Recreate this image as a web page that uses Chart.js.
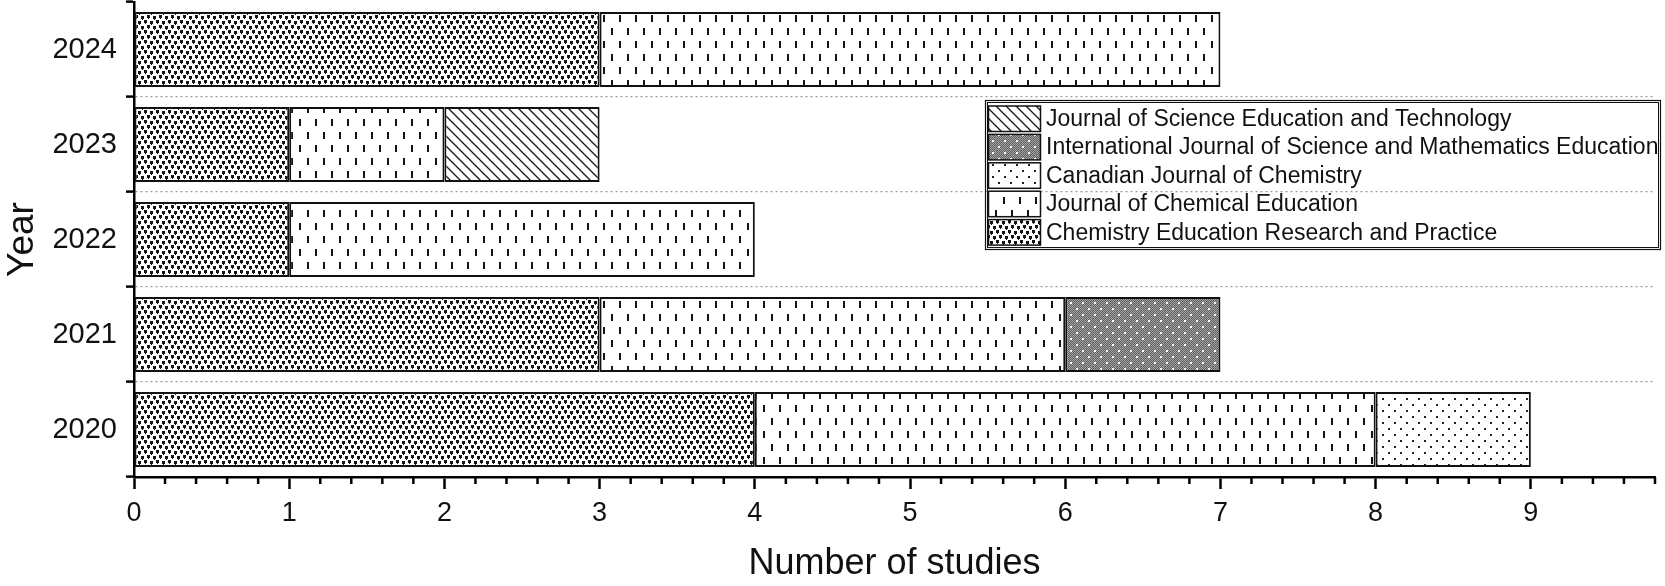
<!DOCTYPE html>
<html><head><meta charset="utf-8">
<script src="https://cdn.jsdelivr.net/npm/chart.js@4.4.0/dist/chart.umd.min.js"></script>
<style>html,body{margin:0;padding:0;background:#fff;overflow:hidden}canvas{display:block}</style>
</head><body>
<canvas id="c" width="1665" height="586"></canvas>
<script>
// ---- data ----
const years = ['2020', '2021', '2022', '2023', '2024'];
const journals = [
  'Chemistry Education Research and Practice',
  'Journal of Chemical Education',
  'Canadian Journal of Chemistry',
  'International Journal of Science and Mathematics Education',
  'Journal of Science Education and Technology'
];
const cerp  = [4, 3, 1, 1, 3];
const jce   = [4, 3, 3, 1, 4];
const cjc   = [1, 0, 0, 0, 0];
const ijsme = [0, 1, 0, 0, 0];
const jset  = [0, 0, 0, 1, 0];
const xMin = 0, xMax = 9.8, xStep = 1, xMinorStep = 0.2;
const xTitle = 'Number of studies';
const yTitle = 'Year';

// ---- patterns ----
const canvas = document.getElementById('c');
const mainCtx = canvas.getContext('2d');
function makePattern(w, h, bg, draw) {
  const t = document.createElement('canvas');
  t.width = w; t.height = h;
  const g = t.getContext('2d');
  g.fillStyle = bg; g.fillRect(0, 0, w, h);
  draw(g);
  return mainCtx.createPattern(t, 'repeat');
}
const patCERP = makePattern(12, 10, '#fff', g => {
  g.fillStyle = '#151515';
  [[0,0],[6,1],[3,5],[9,6]].forEach(([x,y]) => {
    g.fillRect(x, y, 3, 3);
    g.fillRect(x + 1, y + 3, 1, 1);
  });
});
const patJCE = makePattern(16, 26, '#fff', g => {
  g.fillStyle = '#151515';
  g.fillRect(3, 2, 2, 7);
  g.fillRect(11, 15, 2, 7);
});
const patCJC = makePattern(12, 12, '#fff', g => {
  g.fillStyle = '#222';
  g.fillRect(2, 2, 2, 2);
  g.fillRect(8, 8, 2, 2);
});
const patIJSME = makePattern(12, 12, '#808080', g => {
  for (let y = 0; y < 12; y++) for (let x = 0; x < 12; x++) {
    g.fillStyle = ((x + y) % 2) ? '#5e5e5e' : '#a4a4a4';
    g.fillRect(x, y, 1, 1);
  }
  g.fillStyle = '#fff';
  g.fillRect(2, 2, 2, 2);
  g.fillRect(8, 8, 2, 2);
});
const patJSET = makePattern(10, 10, '#fff', g => {
  g.strokeStyle = '#151515'; g.lineWidth = 1.3;
  g.beginPath();
  g.moveTo(-1, -1); g.lineTo(11, 11);
  g.moveTo(9, -1); g.lineTo(11, 1);
  g.moveTo(-1, 9); g.lineTo(1, 11);
  g.stroke();
});

const series = [cerp, jce, cjc, ijsme, jset];
const patterns = [patCERP, patJCE, patCJC, patIJSME, patJSET];

const FONT = '"Liberation Sans", Arial, Helvetica, sans-serif';
Chart.defaults.font.family = FONT;
Chart.defaults.color = '#111';

// ---- plugins ----
const minorTicks = {
  id: 'minorTicks',
  afterDraw(chart, args, o) {
    const s = chart.scales.x, ctx = chart.ctx;
    ctx.save();
    ctx.strokeStyle = '#000'; ctx.lineWidth = 2.5;
    const n = Math.round((s.max - s.min) / o.step);
    const per = Math.round(o.major / o.step);
    for (let i = 0; i <= n; i++) {
      if (i % per === 0) continue;
      const px = s.getPixelForValue(s.min + i * o.step);
      ctx.beginPath(); ctx.moveTo(px, s.top); ctx.lineTo(px, s.top + o.len); ctx.stroke();
    }
    ctx.restore();
  }
};
const boxLegend = {
  id: 'boxLegend',
  afterDraw(chart, args, o) {
    const ctx = chart.ctx;
    ctx.save();
    ctx.strokeStyle = '#111';
    ctx.lineWidth = 1.2;
    ctx.strokeRect(o.x + 0.5, o.y + 0.5, o.w, o.h);
    ctx.lineWidth = 1;
    ctx.strokeRect(o.x + 2.5, o.y + 2.5, o.w - 4, o.h - 4);
    const ds = chart.data.datasets.slice().reverse();
    ds.forEach((d, i) => {
      const y = o.y + o.first + i * o.pitch;
      ctx.fillStyle = d.backgroundColor;
      ctx.fillRect(o.sx, y, o.sw, o.sh);
      ctx.lineWidth = 1.5; ctx.strokeStyle = '#111';
      ctx.strokeRect(o.sx, y, o.sw, o.sh);
      ctx.fillStyle = '#111';
      ctx.font = o.font + 'px ' + FONT;
      ctx.textBaseline = 'middle'; ctx.textAlign = 'left';
      ctx.fillText(d.label, o.tx, y + o.sh / 2 + 1);
    });
    ctx.restore();
  }
};

new Chart(canvas, {
  type: 'bar',
  data: {
    labels: years,
    datasets: journals.map((name, i) => ({
      label: name,
      data: series[i].map(v => v || null),
      backgroundColor: patterns[i],
      borderColor: '#111',
      borderWidth: 2,
      borderSkipped: false,
      barPercentage: 0.79,
      categoryPercentage: 1
    }))
  },
  options: {
    indexAxis: 'y',
    responsive: false,
    animation: false,
    devicePixelRatio: 1,
    layout: { padding: { top: 2, right: 10, left: 0, bottom: 0 } },
    plugins: {
      legend: { display: false },
      tooltip: { enabled: false },
      minorTicks: { step: xMinorStep, major: xStep, len: 7 },
      boxLegend: { x: 985, y: 100, w: 675, h: 149, sx: 988.5, sw: 52, sh: 25.5, first: 6, pitch: 28.4, tx: 1046, font: 23 }
    },
    scales: {
      x: {
        type: 'linear', stacked: true, min: xMin, max: xMax,
        afterFit: s => { s.height = 109; s.paddingLeft = 0; s.paddingRight = 0; },
        ticks: { stepSize: xStep, includeBounds: false, font: { size: 27 }, color: '#111', padding: 8 },
        grid: { drawOnChartArea: false, drawTicks: true, tickLength: 12, tickColor: '#000', tickWidth: 2.5 },
        border: { display: true, color: '#000', width: 2.5 },
        title: { display: true, text: xTitle, font: { size: 36, lineHeight: 1.2 }, color: '#111', padding: { top: 0, bottom: 0 } }
      },
      y: {
        type: 'category', stacked: true, reverse: true,
        afterFit: s => { s.width = 134; s.paddingTop = 0; s.paddingBottom = 0; },
        ticks: { font: { size: 29 }, color: '#111', padding: 9 },
        grid: {
          offset: true, drawTicks: true, tickLength: 8, tickColor: '#000', tickWidth: 2.5,
          tickBorderDash: [],
          color: c => (c.index === undefined || c.index === 0) ? 'rgba(0,0,0,0)' : '#9a9a9a',
          lineWidth: 1.2
        },
        border: { display: true, color: '#000', width: 2.5, dash: [2, 3] },
        title: { display: true, text: yTitle, font: { size: 37, lineHeight: 1.2 }, color: '#111', padding: { top: 1, bottom: 0 } }
      }
    }
  },
  plugins: [minorTicks, boxLegend]
});
</script>
</body></html>
